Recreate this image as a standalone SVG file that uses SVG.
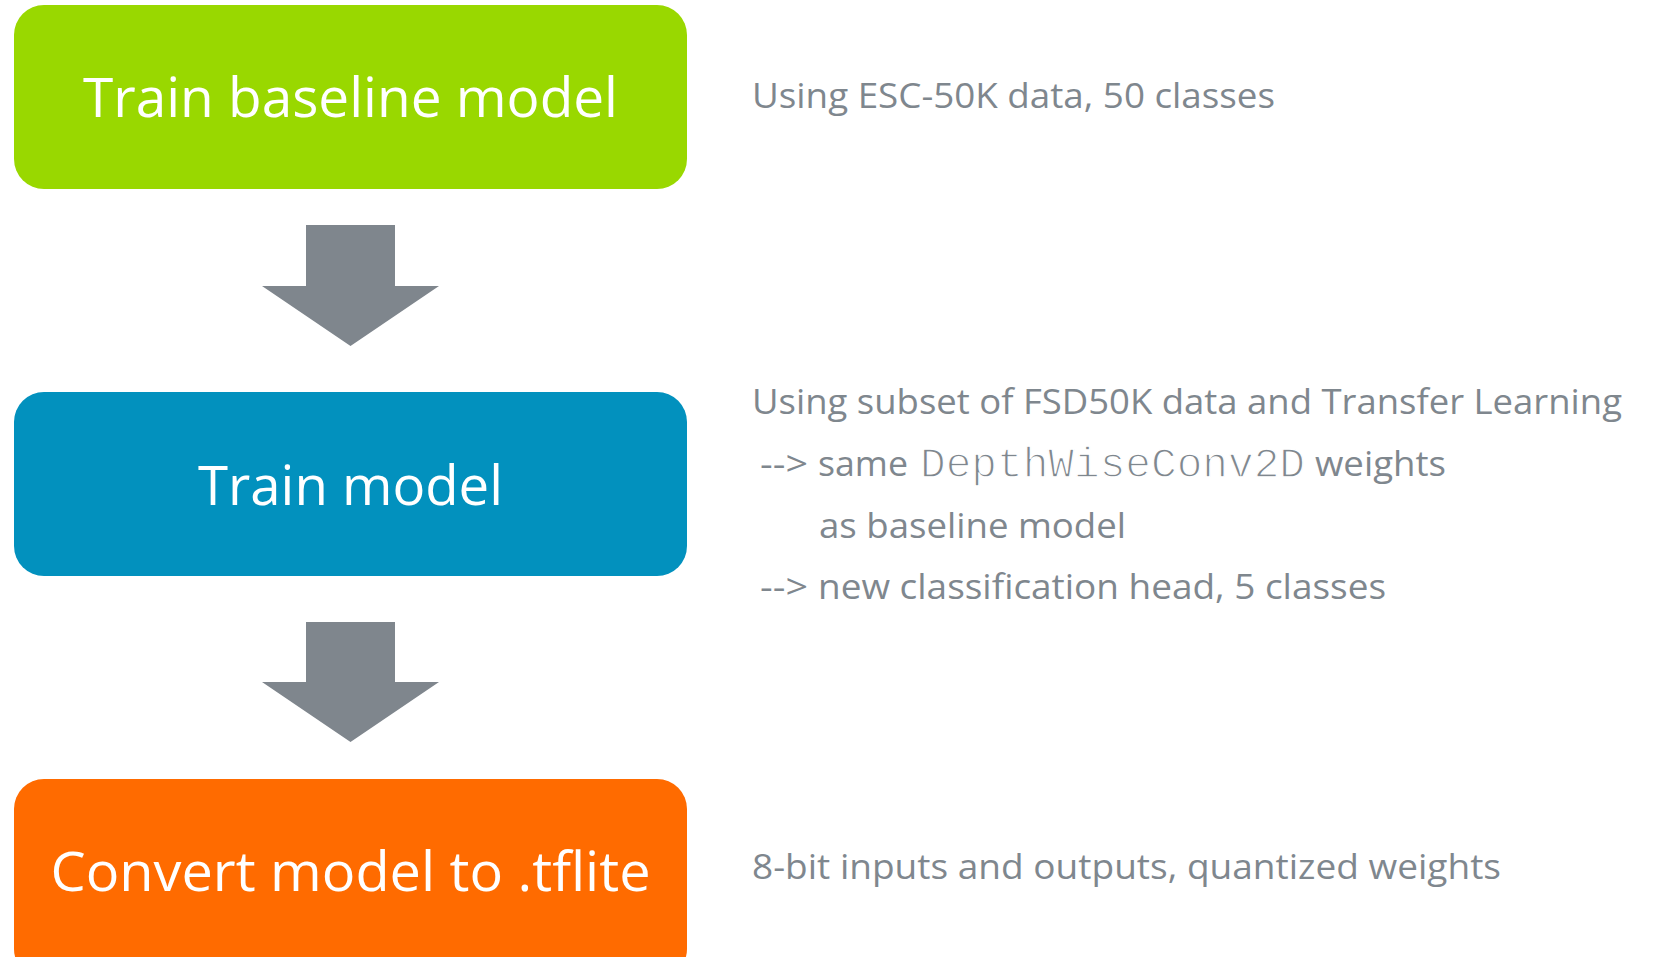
<svg xmlns="http://www.w3.org/2000/svg" width="1655" height="957" viewBox="0 0 1655 957">
<style>
.box-text{font-family:"Open Sans","Noto Sans","DejaVu Sans",sans-serif;font-size:55px;fill:#ffffff;text-anchor:middle}
.note{font-family:"Open Sans","Noto Sans","DejaVu Sans",sans-serif;font-size:35px;fill:#7f878e}
.mono{font-family:"Liberation Mono","Courier New",monospace;font-size:42px;fill:#7f878e;stroke:#ffffff;stroke-width:1.3px}
.arrow{fill:#7f868d}
</style>
<rect width="1655" height="957" fill="#ffffff"/>
<g id="connectors">
<polygon class="arrow" points="306,225 395,225 395,286 439,286 350.5,346 262,286 306,286"/>
<polygon class="arrow" points="306,622 395,622 395,682 439,682 350.5,742 262,682 306,682"/>
</g>
<g id="node-train-baseline">
<rect x="14" y="5" width="673" height="184" rx="30" ry="30" fill="#99d800"/>
<text class="box-text" x="350.5" y="117" textLength="535" lengthAdjust="spacingAndGlyphs">Train baseline model</text>
</g>
<g id="node-train-model">
<rect x="14" y="392" width="673" height="184" rx="30" ry="30" fill="#0291be"/>
<text class="box-text" x="350.5" y="505" textLength="305" lengthAdjust="spacingAndGlyphs">Train model</text>
</g>
<g id="node-convert">
<rect x="14" y="779" width="673" height="200" rx="30" ry="30" fill="#ff6b00"/>
<text class="box-text" x="350.5" y="891" textLength="600" lengthAdjust="spacingAndGlyphs">Convert model to .tflite</text>
</g>
<g id="note-baseline">
<text class="note" x="752" y="108" textLength="523" lengthAdjust="spacingAndGlyphs">Using ESC-50K data, 50 classes</text>
</g>
<g id="note-train">
<text class="note" x="752" y="414" textLength="870" lengthAdjust="spacingAndGlyphs">Using subset of FSD50K data and Transfer Learning</text>
<text class="note" x="760" y="476" textLength="48" lengthAdjust="spacingAndGlyphs">--&gt;</text>
<text class="note" x="818" y="476" textLength="90" lengthAdjust="spacingAndGlyphs">same</text>
<text class="mono" x="920" y="477" textLength="385" lengthAdjust="spacingAndGlyphs">DepthWiseConv2D</text>
<text class="note" x="1315" y="476" textLength="131" lengthAdjust="spacingAndGlyphs">weights</text>
<text class="note" x="819" y="538" textLength="307" lengthAdjust="spacingAndGlyphs">as baseline model</text>
<text class="note" x="760" y="599" textLength="48" lengthAdjust="spacingAndGlyphs">--&gt;</text>
<text class="note" x="818" y="599" textLength="568" lengthAdjust="spacingAndGlyphs">new classification head, 5 classes</text>
</g>
<g id="note-convert">
<text class="note" x="752" y="879" textLength="749" lengthAdjust="spacingAndGlyphs">8-bit inputs and outputs, quantized weights</text>
</g>
</svg>
